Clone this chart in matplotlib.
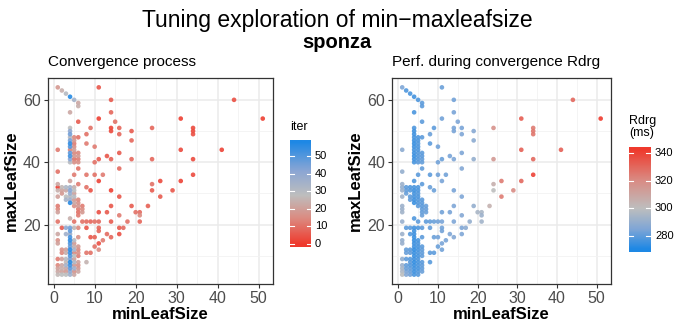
import numpy as np
import matplotlib
matplotlib.use("Agg")
import matplotlib.pyplot as plt
from matplotlib.colors import LinearSegmentedColormap, Normalize

plt.rcParams["font.family"] = ["Liberation Sans", "DejaVu Sans"]

# Explored configurations: (minLeafSize, maxLeafSize), iteration index, rendering time
min_leaf = [
    # sparse region
    11, 14, 14, 11, 15, 31, 44, 51, 9, 14, 14, 16, 19, 24, 34, 34, 34, 8, 16, 19,
    8, 10, 16, 13, 31, 41, 11, 14, 19, 24, 34, 10, 16, 8, 10, 12, 34, 11, 26, 31,
    24, 8, 9, 14, 24, 29, 26, 16, 19, 14, 23, 7, 7, 7, 20, 21, 11, 13, 16, 21,
    7, 8, 9, 10, 11, 14, 18, 21, 16, 17, 11, 8, 11, 13, 16, 9, 10, 14, 12, 11,
    10, 11, 8, 9, 8,
    # minLeafSize = 1
    1, 1, 1, 1, 1, 1, 1, 1, 1, 1, 1, 1, 1, 1, 1, 1, 1, 1, 1,
    # minLeafSize = 2
    2, 2, 2, 2, 2, 2, 2, 2, 2, 2, 2, 2,
    # minLeafSize = 3
    3, 3, 3, 3, 3, 3, 3, 3, 3, 3, 3, 3, 3, 3, 3,
    # minLeafSize = 4
    4, 4, 4, 4, 4, 4, 4, 4, 4, 4, 4, 4, 4, 4, 4, 4, 4, 4, 4, 4,
    4, 4, 4, 4, 4, 4, 4, 4, 4, 4, 4, 4, 4, 4, 4, 4, 4, 4,
    # minLeafSize = 5
    5, 5, 5, 5, 5, 5, 5, 5, 5, 5, 5, 5, 5, 5, 5, 5, 5, 5, 5, 5,
    5, 5, 5, 5, 5, 5, 5, 5, 5, 5, 5, 5,
    # minLeafSize = 6
    6, 6, 6, 6, 6, 6, 6, 6, 6, 6, 6, 6, 6, 6, 6, 6, 6, 6, 6, 6,
    6, 6, 6, 6, 6, 6,
]

max_leaf = [
    64, 60, 56, 54, 53, 54, 60, 54, 51, 51, 50, 51, 50, 51, 51, 50, 49, 49, 49, 47,
    46, 45, 43, 42, 44, 44, 41, 41, 41, 41, 41, 40, 38, 36, 36, 36, 36, 34, 34, 34,
    33, 32, 31, 31, 31, 31, 29, 29, 26, 26, 26, 26, 25, 24, 24, 24, 24, 24, 23, 23,
    21, 21, 21, 21, 21, 21, 21, 21, 19, 19, 19, 19, 18, 17, 17, 16, 16, 16, 15, 14,
    13, 12, 11, 11, 8,
    64, 44, 37, 33, 32, 31, 29, 26, 25, 24, 21, 17, 15, 14, 9, 7, 6, 5, 4,
    63, 32, 31, 30, 19, 12, 11, 9, 7, 6, 5, 4,
    62, 32, 31, 29, 28, 19, 17, 12, 11, 9, 8, 7, 6, 5, 4,
    61, 56, 51, 50, 49, 48, 47, 46, 45, 44, 43, 42, 41, 40, 34, 32, 31, 30, 29, 28,
    27, 22, 19, 18, 17, 16, 15, 14, 13, 12, 11, 10, 9, 8, 7, 6, 5, 4,
    60, 48, 47, 46, 45, 44, 43, 42, 41, 40, 36, 32, 31, 30, 29, 28, 27, 26, 21, 19,
    15, 14, 13, 12, 11, 10, 9, 8, 7, 6, 5, 4,
    59, 58, 53, 48, 43, 42, 41, 40, 38, 33, 28, 27, 26, 25, 24, 23, 19, 16, 13, 12,
    11, 10, 8, 7, 6, 5,
]

iteration = [
    5, 6, 8, 1, 10, 1, 4, 1, 10, 2, 3, 8, 6, 8, 3, 3, 4, 10, 8, 8,
    12, 12, 6, 5, 3, 2, 6, 7, 8, 8, 3, 10, 9, 11, 10, 12, 3, 2, 3, 2,
    10, 10, 4, 1, 6, 5, 6, 5, 6, 5, 7, 12, 15, 18, 10, 9, 4, 6, 12, 15,
    10, 9, 8, 10, 9, 6, 10, 8, 6, 9, 8, 5, 8, 9, 4, 5, 7, 8, 12, 4,
    10, 15, 11, 10, 25,
    18, 12, 10, 22, 0, 24, 20, 12, 14, 20, 10, 22, 16, 20, 12, 14, 20, 22, 26,
    24, 26, 20, 18, 6, 16, 14, 20, 22, 24, 20, 28,
    30, 32, 22, 28, 34, 40, 36, 20, 24, 30, 26, 34, 22, 18, 28,
    57, 22, 28, 40, 45, 30, 44, 55, 50, 14, 48, 52, 42, 30, 20, 35, 42, 38, 30, 36,
    56, 24, 45, 48, 38, 52, 55, 50, 46, 56, 54, 50, 44, 57, 53, 48, 40, 36,
    35, 14, 18, 12, 16, 20, 14, 18, 10, 16, 12, 24, 28, 20, 30, 18, 22, 16, 10, 26,
    30, 18, 24, 34, 14, 28, 20, 32, 18, 36, 16, 22,
    22, 24, 6, 10, 14, 18, 12, 16, 10, 12, 14, 16, 18, 12, 10, 12, 14, 16, 18, 14,
    16, 12, 20, 16, 18, 22,
]

rdrg_ms = [
    282, 283, 284, 283, 285, 333, 330, 342, 280, 284, 284, 284, 287, 318, 325, 326, 326, 282, 285, 288,
    280, 283, 285, 284, 332, 332, 282, 285, 290, 315, 330, 283, 286, 280, 283, 283, 340, 284, 325, 330,
    306, 282, 282, 284, 300, 320, 325, 285, 290, 285, 305, 282, 282, 282, 295, 295, 283, 284, 286, 292,
    280, 281, 282, 283, 284, 285, 290, 293, 285, 288, 283, 281, 283, 285, 285, 282, 283, 286, 284, 284,
    282, 283, 280, 280, 279,
    285, 288, 290, 292, 290, 292, 293, 292, 292, 293, 291, 292, 290, 291, 290, 292, 295, 296, 300,
    278, 280, 281, 282, 280, 281, 282, 280, 281, 282, 284, 286,
    277, 278, 279, 280, 281, 280, 279, 280, 281, 279, 280, 279, 281, 282, 283,
    276, 277, 278, 276, 276, 277, 276, 275, 276, 277, 276, 275, 276, 277, 278, 277, 276, 277, 277, 276,
    275, 278, 276, 276, 276, 275, 275, 276, 276, 274, 275, 275, 276, 274, 275, 276, 276, 277,
    278, 278, 278, 279, 278, 278, 279, 279, 279, 280, 280, 278, 278, 279, 278, 279, 279, 280, 280, 278,
    277, 278, 277, 277, 278, 277, 278, 277, 278, 277, 279, 279,
    280, 280, 280, 280, 280, 280, 281, 281, 281, 280, 280, 280, 280, 281, 281, 282, 280, 280, 280, 281,
    281, 281, 280, 281, 281, 282,
]

RED = "#EF3A2D"
GREY = "#BEBEBE"
BLUE = "#1E88E5"

iter_cmap = LinearSegmentedColormap.from_list(
    "iter", [(0.0, RED), (0.25, "#DC8A80"), (0.48, GREY), (0.72, "#8AA6D4"), (1.0, BLUE)])
rdrg_cmap = LinearSegmentedColormap.from_list(
    "rdrg", [(0.0, BLUE), (0.2, "#7FA6D6"), (0.41, GREY), (0.7, "#DA8A82"), (1.0, RED)])

x = np.array(min_leaf)
y = np.array(max_leaf)
it = np.array(iteration)
rd = np.array(rdrg_ms)
order = np.argsort(it, kind="stable")

iter_norm = Normalize(0, 58)
rdrg_norm = Normalize(270.5, 342.5)

W, H = 674, 333
fig = plt.figure(figsize=(W / 100, H / 100), dpi=100)


def fx(px):
    return px / W


def fy(py):
    return 1 - py / H


fig.text(0.5, fy(20), "Tuning exploration of min\u2212maxleafsize", ha="center", va="center",
         fontsize=16.5, color="black")
fig.text(0.5, fy(42), "sponza", ha="center", va="center", fontsize=14.5,
         fontweight="bold", color="black")


def panel(left, right, title, values, cmap, norm):
    ax = fig.add_axes([fx(left), fy(284), fx(right - left), fy(78) - fy(284)])
    ax.scatter(x[order], y[order], c=values[order], cmap=cmap, norm=norm, s=11,
               linewidths=0, alpha=0.9, zorder=3)
    ax.set_xlim(-1.5, 53.5)
    ax.set_ylim(1, 67)
    ax.set_xticks([0, 10, 20, 30, 40, 50])
    ax.set_xticks([5, 15, 25, 35, 45], minor=True)
    ax.set_yticks([20, 40, 60])
    ax.set_yticks([10, 30, 50], minor=True)
    ax.grid(True, which="major", color="#EBEBEB", lw=1.1, zorder=0)
    ax.grid(True, which="minor", color="#F2F2F2", lw=0.6, zorder=0)
    ax.tick_params(which="major", length=3, width=0.8, color="#333333",
                   labelsize=11.5, labelcolor="#4D4D4D", pad=2)
    ax.tick_params(which="minor", length=0)
    for s in ax.spines.values():
        s.set_color("#333333")
        s.set_linewidth(0.9)
    ax.set_xlabel("minLeafSize", fontsize=12, fontweight="bold", labelpad=1)
    ax.set_ylabel("maxLeafSize", fontsize=12, fontweight="bold", labelpad=3)
    fig.text(fx(left), fy(62), title, ha="left", va="center", fontsize=11)
    return ax


panel(47.5, 273, "Convergence process", it, iter_cmap, iter_norm)
panel(392.3, 610.6, "Perf. during convergence Rdrg", rd, rdrg_cmap, rdrg_norm)


def colorbar(left, right, top, bottom, lo, hi, cmap, norm, ticks, title, title_y):
    cax = fig.add_axes([fx(left), fy(bottom), fx(right - left), fy(top) - fy(bottom)])
    grad = np.linspace(lo, hi, 256).reshape(-1, 1)
    cax.imshow(grad, extent=[0, 1, lo, hi], origin="lower", aspect="auto",
               cmap=cmap, norm=norm)
    cax.set_xlim(0, 1)
    cax.set_ylim(lo, hi)
    for t in ticks:
        cax.plot([0, 0.2], [t, t], color="white", lw=0.8)
        cax.plot([0.8, 1], [t, t], color="white", lw=0.8)
        cax.text(1.2, t, str(t), transform=cax.get_yaxis_transform(), ha="left",
                 va="center", fontsize=8, color="black")
    cax.set_xticks([])
    cax.set_yticks([])
    for s in cax.spines.values():
        s.set_visible(False)
    fig.text(fx(left), fy(title_y), title, ha="left", va="center", fontsize=9,
             linespacing=1.0)


colorbar(290, 310.7, 140, 246.7, -1.5, 59, iter_cmap, iter_norm,
         [0, 10, 20, 30, 40, 50], "iter", 127)
colorbar(629, 650.7, 147.3, 251.7, 268.6, 344.3, rdrg_cmap, rdrg_norm,
         [280, 300, 320, 340], "Rdrg\n(ms)", 127)

fig.savefig("out.png", dpi=100)
